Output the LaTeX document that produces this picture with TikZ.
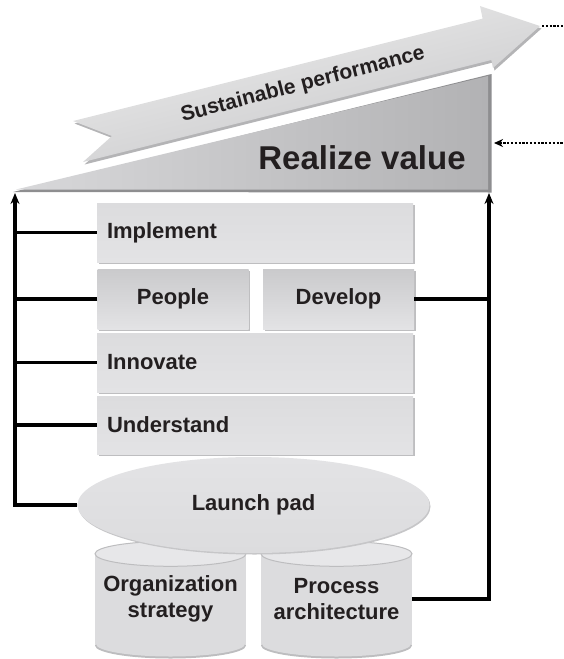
\documentclass[tikz,border=0pt]{standalone}
\usepackage{fontspec}
\setmainfont{Liberation Sans}
\usetikzlibrary{arrows.meta,shapes.geometric,calc}
\definecolor{txt}{HTML}{231F20}
\definecolor{boxa}{HTML}{DCDCDE}
\definecolor{boxb}{HTML}{E3E3E5}
\definecolor{boxdark}{HTML}{CACACC}
\definecolor{boxshadow}{HTML}{BEBEC0}
\definecolor{padshadow}{HTML}{C6C6C8}
\definecolor{tril}{HTML}{D8D8DA}
\definecolor{trir}{HTML}{B2B2B4}
\definecolor{tririm}{HTML}{8E8E90}
\definecolor{arrtop}{HTML}{EEEEEE}
\definecolor{arrbot}{HTML}{C6C6C8}
\definecolor{arrshadow}{HTML}{B4B4B6}
\definecolor{cylside}{HTML}{DCDCDE}
\definecolor{cyltop}{HTML}{E7E7E9}
\definecolor{cylrim}{HTML}{BDBDBF}
\begin{document}
\begin{tikzpicture}[x=1pt,y=-1pt,
  every node/.style={text=txt, font=\bfseries\fontsize{22}{26}\selectfont},
  shadowed/.style={preaction={fill=boxshadow, transform canvas={shift={(1.5pt,-1.5pt)}}}},
  stepbox/.style={rectangle, shadowed, top color=boxa, bottom color=boxb,
    minimum width=316pt, minimum height=59pt, inner xsep=10pt, inner ysep=0pt,
    text width=296pt, align=left},
  halfbox/.style={rectangle, shadowed, top color=boxdark, bottom color=boxb,
    minimum width=151pt, minimum height=60pt, inner sep=0pt, align=center},
  cylbody/.style={rectangle, fill=cylside, minimum width=151pt, minimum height=90pt,
    inner sep=0pt, align=center},
  conn/.style={line width=3.2pt, draw=black},
  tipstyle/.style={-{Stealth[length=11pt,width=9pt]}},
  dots/.style={line width=2.8pt, dash pattern=on 2.2pt off 1.6pt}
]
\useasboundingbox (0,0) rectangle (564,659);

% --- sustainable performance arrow ---
\fill[arrshadow, shift={(1.5,2.5)}] (73,121) -- (482.6,18.6) -- (480,6) -- (540,26) -- (493,68) -- (491.3,60) -- (83,162) -- (112,136) -- cycle;
\shade[top color=arrtop, bottom color=arrbot, shading angle=14] (73,121) -- (482.6,18.6) -- (480,6) -- (540,26) -- (493,68) -- (491.3,60) -- (83,162) -- (112,136) -- cycle;
\node[rotate=14.5, font=\bfseries\fontsize{21}{24}\selectfont] (sust) at (303,85) {Sustainable performance};
\coordinate (arrtip) at (542,26);
\draw[dots] (arrtip) -- (570,26);

% --- realize value triangle ---
\fill[tririm] (13,192) -- (491.5,74) -- (491.5,192.5) -- cycle;
\shade[left color=tril, right color=trir] (16,189.5) -- (488,76) -- (488,189.5) -- cycle;
\node[font=\bfseries\fontsize{33}{36}\selectfont] (rv) at (362,158) {Realize value};
\coordinate (rvright) at (494,143);
\draw[dots, {Stealth[length=9pt,width=8pt]}-] (rvright) -- (570,143);

% --- cylinders ---
\fill[cylrim] (170.5,645.5) ellipse [x radius=75.5, y radius=13];
\fill[cylrim] (336.5,645.5) ellipse [x radius=75.5, y radius=13];
\fill[cylside] (170.5,644) ellipse [x radius=74.5, y radius=12.5];
\fill[cylside] (336.5,644) ellipse [x radius=74.5, y radius=12.5];
\node[cylbody] (org) at (170.5,599) {Organization\\strategy};
\node[cylbody] (proc) at (336.5,599) {Process\\architecture};
\fill[cyltop, draw=cylrim, line width=1pt] (org.north) ellipse [x radius=75.5, y radius=12.5];
\fill[cyltop, draw=cylrim, line width=1pt] (proc.north) ellipse [x radius=75.5, y radius=12.5];

% --- launch pad ---
\fill[padshadow] (254.5,506.5) ellipse [x radius=176, y radius=48];
\node[ellipse, top color=boxb, bottom color=boxa, minimum width=352pt, minimum height=96pt, inner sep=0pt] (pad) at (253.5,505) {Launch pad};

% --- stacked boxes ---
\node[stepbox] (impl) at (255,232.5) {Implement};
\node[halfbox] (people) at (173,299) {People};
\node[halfbox] (dev) at (338.5,299) {Develop};
\node[stepbox] (innov) at (255,362.5) {Innovate};
\node[stepbox, minimum height=58pt] (under) at (255,425) {Understand};

% --- connectors ---
\coordinate (tipL) at (15,193);
\coordinate (tipR) at (489,193);
\draw[conn, tipstyle] (pad.west) -| (tipL);
\draw[conn] (impl.west) -- (impl.west -| tipL);
\draw[conn] (people.west) -- (people.west -| tipL);
\draw[conn] (innov.west) -- (innov.west -| tipL);
\draw[conn] (under.west) -- (under.west -| tipL);
\draw[conn, tipstyle] (proc.east) -| (tipR);
\draw[conn] (dev.east) -- (dev.east -| tipR);
\end{tikzpicture}
\end{document}
